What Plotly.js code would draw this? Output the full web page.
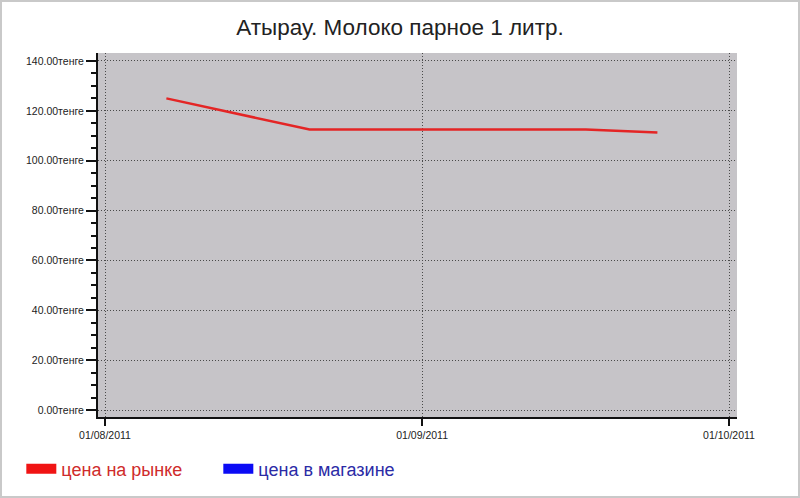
<!DOCTYPE html>
<html>
<head>
<meta charset="utf-8">
<script src="https://cdn.plot.ly/plotly-3.0.1.min.js"></script>
<style>
  html, body { margin: 0; padding: 0; background: #fff; }
  #chart { width: 800px; height: 498px; }
  #frame { position: absolute; left: 0; top: 0; width: 800px; height: 498px;
           box-sizing: border-box; border: 2px solid #c9c9c9; pointer-events: none; }
</style>
</head>
<body>
<div id="chart"></div>
<div id="frame"></div>
<script>
// market price (tenge)
const marketDates = ["2011-08-07", "2011-08-21", "2011-08-28", "2011-09-10", "2011-09-17", "2011-09-24"];
const marketPrice = [125, 112.5, 112.5, 112.5, 112.5, 111.3];

// shop price - no values shown on the chart
const shopDates = [null];
const shopPrice = [null];

const xTickVals = ["2011-08-01", "2011-09-01", "2011-10-01"];
const xTickText = ["01/08/2011", "01/09/2011", "01/10/2011"];

const RED = "#e42525";
const BLUE = "#0b0bf5";

const traces = [
  {
    x: marketDates, y: marketPrice,
    type: "scatter", mode: "lines",
    line: { color: RED, width: 2.5 },
    showlegend: false, hoverinfo: "x+y"
  },
  // legend swatch for the market series
  {
    x: [null], y: [null], type: "scatter", mode: "lines",
    line: { color: "#f01414", width: 11 },
    name: '<span style="color:#cf2b2b">цена на рынке</span>'
  },
  {
    x: shopDates, y: shopPrice, type: "scatter", mode: "lines",
    line: { color: BLUE, width: 11 },
    name: '<span style="color:#2b2ba6">цена в магазине</span>'
  }
];

const layout = {
  width: 800, height: 498,
  margin: { l: 98, r: 63, t: 53, b: 80 },
  paper_bgcolor: "#ffffff",
  plot_bgcolor: "#c6c4c8",
  font: { family: "Liberation Sans, Arial, sans-serif", color: "#222", size: 10 },
  title: {
    text: "Атырау. Молоко парное 1 литр.",
    font: { size: 22.5, color: "#222" },
    x: 0.5, xref: "container", xanchor: "center",
    y: 1 - 27 / 498, yref: "container", yanchor: "middle"
  },
  xaxis: {
    type: "date",
    range: ["2011-07-31 07:35", "2011-10-01 18:45"],
    tickmode: "array", tickvals: xTickVals, ticktext: xTickText,
    ticks: "outside", ticklen: 7, tickwidth: 2, tickcolor: "#111",
    showline: true, linecolor: "#111", linewidth: 2,
    showgrid: true, gridcolor: "#4a4a4a", griddash: "1px,2px", gridwidth: 1,
    zeroline: false,
    tickfont: { size: 10.5, color: "#222" },
    fixedrange: true
  },
  yaxis: {
    range: [-2.8, 143.2],
    tickmode: "linear", tick0: 0, dtick: 20,
    tickformat: ".2f", ticksuffix: "тенге",
    ticks: "outside", ticklen: 10, tickwidth: 2, tickcolor: "#111",
    minor: { dtick: 5, ticks: "outside", ticklen: 5, tickwidth: 2, tickcolor: "#111", showgrid: false },
    showline: true, linecolor: "#111", linewidth: 2,
    showgrid: true, gridcolor: "#4a4a4a", griddash: "1px,2px", gridwidth: 1,
    zeroline: false,
    tickfont: { size: 10.5, color: "#222" },
    fixedrange: true
  },
  legend: {
    orientation: "h",
    x: -0.12, xanchor: "left",
    y: -0.14, yanchor: "middle",
    font: { size: 18 },
    itemwidth: 30,
    entrywidth: 152, entrywidthmode: "pixels",
    bgcolor: "rgba(0,0,0,0)"
  }
};

Plotly.newPlot("chart", traces, layout, { displayModeBar: false, staticPlot: true });
</script>
</body>
</html>
